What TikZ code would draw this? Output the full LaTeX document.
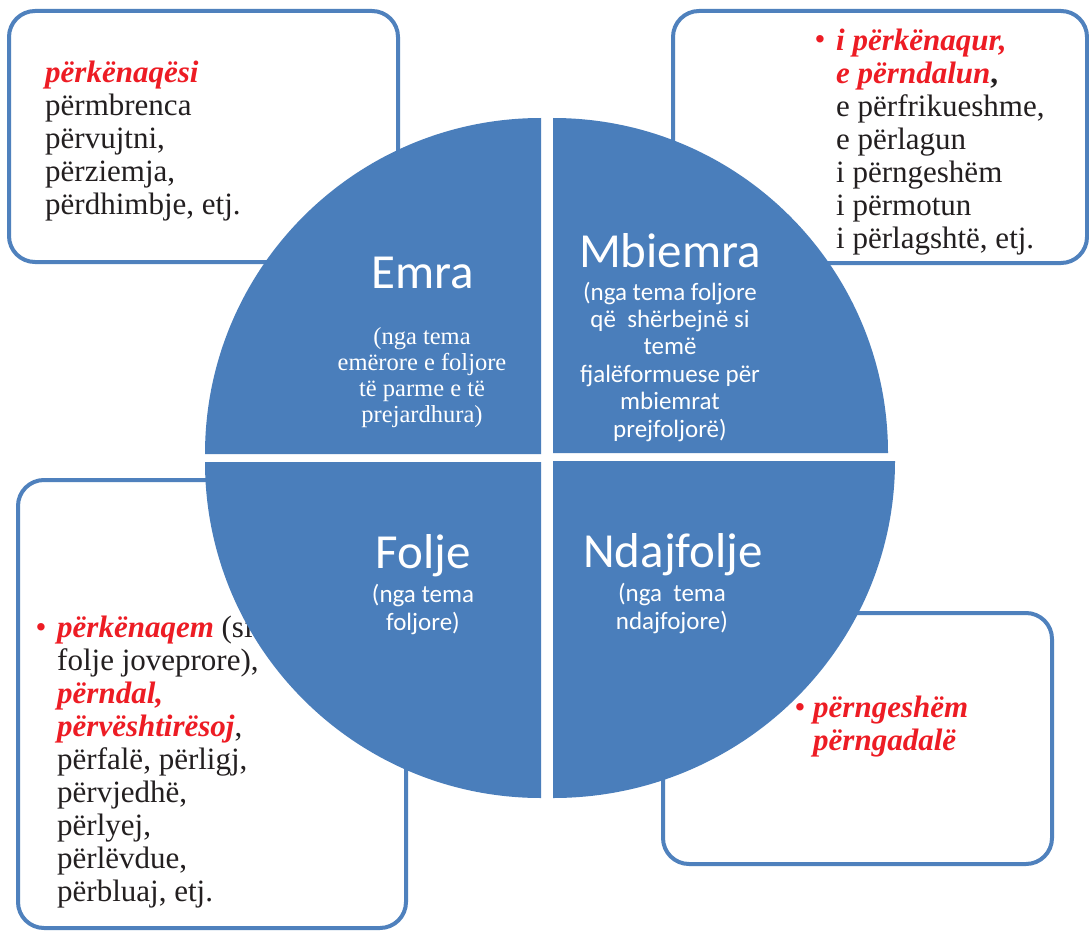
\documentclass[tikz,border=0pt]{standalone}
\usepackage{fontspec}
\setmainfont{Liberation Serif}
\newfontfamily\circlefont{Carlito}
\definecolor{pieblue}{RGB}{74,126,187}
\definecolor{frameblue}{RGB}{79,129,189}
\definecolor{wordred}{RGB}{237,28,36}
\definecolor{ink}{RGB}{35,31,32}
% red bold-italic key words
\newcommand{\hl}[1]{\textcolor{wordred}{\bfseries\itshape #1}}

\begin{document}
\begin{tikzpicture}[x=1pt,y=-1pt,
  frame/.style={draw=frameblue, line width=4pt, rounded corners=26pt, fill=white},
  sector/.style={fill=pieblue},
  % multi-line texts are placed by the baseline of their last line
  boxtext/.style={anchor=base west, align=left, inner sep=0pt, text=ink,
                  font=\fontsize{31}{33}\selectfont},
  bulletmark/.style={anchor=base, inner sep=0pt, text=wordred,
                  font=\fontsize{31}{33}\selectfont},
  title/.style={anchor=base, inner sep=0pt, text=white,
                  font=\circlefont\fontsize{49}{55}\selectfont},
  note/.style={anchor=base, align=center, inner sep=0pt, text=white,
                  font=\circlefont\fontsize{25}{27.4}\selectfont},
  serifnote/.style={anchor=base, align=center, inner sep=0pt, text=white,
                  font=\fontsize{24.5}{25.8}\selectfont},
]
% page
\fill[white] (0,0) rectangle (1089,931);
\useasboundingbox (0,0) rectangle (1089,931);

% the four example boxes
\draw[frame] (9,11) rectangle (398,262);
\draw[frame] (673,11) rectangle (1087,263);
\draw[frame] (18,480) rectangle (406,928);
\draw[frame] (663,613) rectangle (1052,864);

% box texts (first baselines: 82, 50, 637, 717; line pitch 33)
\node[boxtext] (nounlist) at (45,214)
  {\hl{përkënaqësi}\\ përmbrenca\\ përvujtni,\\ përziemja,\\ përdhimbje, etj.};

\node[bulletmark] (adjbullet) at (820,50) {•};
\node[boxtext] (adjlist) at (836,248)
  {\hl{i përkënaqur,}\\ \hl{e përndalun}\textbf{,}\\ e përfrikueshme,\\ e përlagun\\
   i përngeshëm\\ i përmotun\\ i përlagshtë, etj.};

\node[bulletmark] (verbbullet) at (41,637) {•};
\node[boxtext] (verblist) at (57,901)
  {\hl{përkënaqem} (si\\ folje joveprore),\\ \hl{përndal,}\\ \hl{përvështirësoj},\\
   përfalë, përligj,\\ përvjedhë,\\ përlyej,\\ përlëvdue,\\ përbluaj, etj.};

\node[bulletmark] (advbullet) at (800,717) {•};
\node[boxtext] (advlist) at (813,750)
  {\hl{përngeshëm}\\ \hl{përngadalë}};

% the split circle
\fill[sector] (541,454) -- ++(-336,0)
  arc[start angle=180, end angle=270, x radius=336, y radius=336] -- cycle;
\fill[sector] (553,453) -- ++(0,-335)
  arc[start angle=270, end angle=360, x radius=335, y radius=335] -- cycle;
\fill[sector] (541,462) -- ++(-336,0)
  arc[start angle=180, end angle=90, x radius=336, y radius=336] -- cycle;
\fill[sector] (553,461) -- ++(342,0)
  arc[start angle=0, end angle=90, x radius=342, y radius=337] -- cycle;

% sector labels
\node[title] (emra) at (423,288) {Emra};
\node[serifnote] (emranote) at (422,422)
  {(nga tema\\ emërore e foljore\\ të parme e të\\ prejardhura)};

\node[title] (mbiemra) at (670,267) {Mbiemra};
\node[note] (mbiemranote) at (670,437)
  {(nga tema foljore\\ që\ \ shërbejnë si\\ temë\\ fjalëformuese për\\ mbiemrat\\ prejfoljorë)};

\node[title] (folje) at (423,568) {Folje};
\node[note] (foljenote) at (423,630) {(nga tema\\ foljore)};

\node[title] (ndajfolje) at (673,567) {Ndajfolje};
\node[note] (ndajfoljenote) at (672,629) {(nga\ \ tema\\ ndajfojore)};
\end{tikzpicture}
\end{document}
